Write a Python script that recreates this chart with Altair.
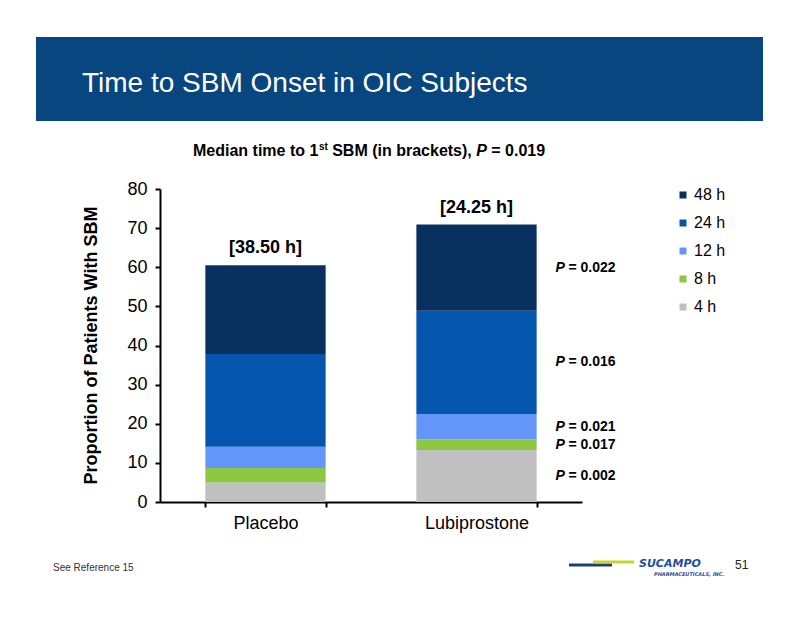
import altair as alt
import pandas as pd

# ---- data ----
groups = ["Placebo", "Lubiprostone"]
intervals = ["4 h", "8 h", "12 h", "24 h", "48 h"]
# cumulative proportion (%) reaching SBM by each interval
placebo_cum = [5.0, 8.7, 14.1, 37.8, 60.5]
lubi_cum = [13.3, 16.0, 22.5, 48.9, 70.9]
medians = ["[38.50 h]", "[24.25 h]"]
p_values = ["= 0.002", "= 0.017", "= 0.021", "= 0.016", "= 0.022"]
y_ticks = [0, 10, 20, 30, 40, 50, 60, 70, 80]

legend_order = ["48 h", "24 h", "12 h", "8 h", "4 h"]
legend_colors = ["#08305f", "#0455ad", "#6396f8", "#8dc63f", "#c0c0c0"]

FONT = "Liberation Sans"

rows = []
for g, cum in zip(groups, [placebo_cum, lubi_cum]):
    prev = 0.0
    for iv, c in zip(intervals, cum):
        rows.append({"group": g, "interval": iv, "lo": prev, "hi": c, "mid": (prev + c) / 2})
        prev = c
df = pd.DataFrame(rows)

tops = pd.DataFrame({"group": groups, "top": [placebo_cum[-1], lubi_cum[-1]], "label": medians})
pdf = df[df.group == "Lubiprostone"].copy()
pdf["p"] = p_values

W, H = 422, 313

yscale = alt.Scale(domain=[0, 80], nice=False)
xscale = alt.Scale(paddingInner=0.43, paddingOuter=0.215)
xaxis = alt.Axis(labelAngle=0, labelFontSize=18, labelFont=FONT, labelColor="black",
                 labelPadding=7, tickSize=5, tickWidth=2, tickColor="black",
                 domainColor="black", domainWidth=2, tickBand="extent")
yaxis = alt.Axis(values=y_ticks, labelFontSize=18, labelFont=FONT, labelOverlap=False,
                 labelColor="black", labelPadding=8, tickSize=5, tickWidth=2,
                 tickColor="black", domainColor="black", domainWidth=2, grid=False)


def X():
    return alt.X("group:N", sort=groups, title=None, scale=xscale, axis=xaxis)


def Y(field):
    return alt.Y(field, title=None, scale=yscale, axis=yaxis)


bars = alt.Chart(df).mark_bar().encode(
    x=X(),
    y=Y("lo:Q"),
    y2="hi:Q",
    color=alt.Color("interval:N",
                    scale=alt.Scale(domain=legend_order, range=legend_colors),
                    legend=alt.Legend(title=None, orient="none", legendX=515, legendY=-2,
                                      symbolType="square", symbolSize=49, symbolStrokeWidth=0,
                                      labelFontSize=16, labelFont=FONT, labelColor="black",
                                      labelOffset=3, rowPadding=12, padding=0)),
)

med_text = alt.Chart(tops).mark_text(fontSize=18, fontWeight="bold", font=FONT, color="black",
                                      baseline="alphabetic", dy=-12).encode(
    x=X(), y=Y("top:Q"), text="label:N")

p_italic = alt.Chart(pdf).mark_text(fontSize=14, fontWeight="bold", fontStyle="italic", font=FONT,
                                     color="black", align="left", baseline="middle", dx=79).encode(
    x=X(), y=Y("mid:Q"), text=alt.value("P"))
p_rest = alt.Chart(pdf).mark_text(fontSize=14, fontWeight="bold", font=FONT, color="black",
                                   align="left", baseline="middle", dx=92).encode(
    x=X(), y=Y("mid:Q"), text="p:N")

one = pd.DataFrame({"k": [0]})


def txt(s, x, y, size, **kw):
    params = dict(fontSize=size, font=FONT, align="left", baseline="alphabetic")
    params.update(kw)
    return alt.Chart(one).mark_text(**params).encode(x=alt.value(x), y=alt.value(y), text=alt.value(s))


banner = alt.Chart(one).mark_rect(color="#08467f").encode(
    x=alt.value(-124), x2=alt.value(603), y=alt.value(-152), y2=alt.value(-68))

title = txt("Time to SBM Onset in OIC Subjects", -78, -97, 28, color="white")

sub_y = -33
subtitle = [
    txt("Median time to 1", 33, sub_y, 16, fontWeight="bold", color="black"),
    txt("st", 158.9, sub_y - 6, 10, fontWeight="bold", color="black"),
    txt("SBM (in brackets),", 172.2, sub_y, 16, fontWeight="bold", color="black"),
    txt("P", 316.2, sub_y, 16, fontWeight="bold", fontStyle="italic", color="black"),
    txt("= 0.019", 331.3, sub_y, 16, fontWeight="bold", color="black"),
]

ytitle = txt("Proportion of Patients With SBM", -68, H / 2, 18, fontWeight="bold",
             color="black", angle=270, align="center", baseline="middle")

footer = txt("See Reference 15", -107, 382, 10, color="#333333")
page_no = txt("51", 575, 380, 12, color="#222222")

logo_line1 = alt.Chart(one).mark_rule(color="#1f3e73", strokeWidth=3).encode(
    x=alt.value(409), x2=alt.value(452), y=alt.value(376))
logo_line2 = alt.Chart(one).mark_rule(color="#c8d62b", strokeWidth=3).encode(
    x=alt.value(433), x2=alt.value(474), y=alt.value(373))
logo_text = txt("SUCAMPO", 479, 378, 11, font="DejaVu Sans", fontWeight="bold",
                fontStyle="italic", color="#1d4e9e")
logo_sub = txt("PHARMACEUTICALS, INC.", 494, 386.5, 5, font="DejaVu Sans", fontWeight="bold",
               fontStyle="italic", color="#1d4e9e")

chart = alt.layer(
    banner, title, *subtitle, ytitle, bars, med_text, p_italic, p_rest,
    footer, page_no, logo_line1, logo_line2, logo_text, logo_sub,
).properties(
    width=W, height=H,
    autosize=alt.AutoSizeParams(type="none"),
    padding={"left": 152, "top": 181, "right": 210, "bottom": 108},
    background="white",
).configure_view(stroke=None)

chart.save("out.html", embed_options={"renderer": "svg", "actions": False})
